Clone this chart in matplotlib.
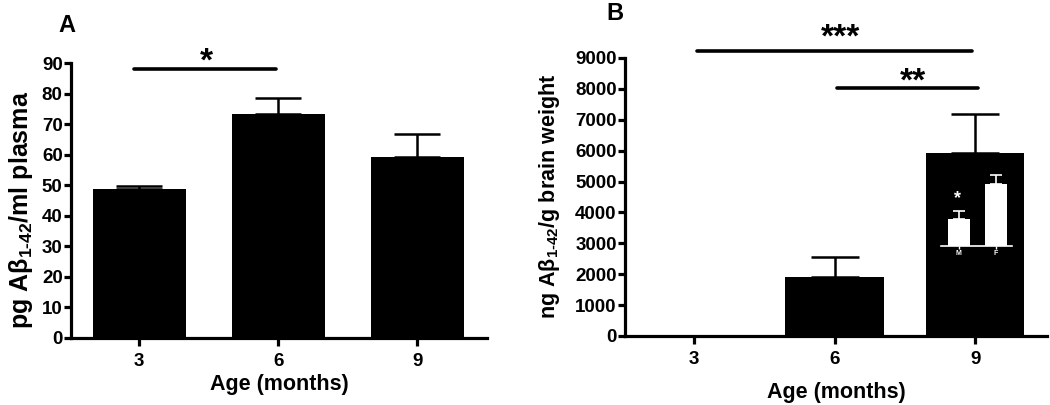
import matplotlib
matplotlib.use("Agg")
import matplotlib.pyplot as plt
import numpy as np

plt.rcParams['font.family'] = ['Liberation Sans', 'DejaVu Sans']
plt.rcParams['font.weight'] = 'bold'
plt.rcParams['mathtext.fontset'] = 'custom'
plt.rcParams['mathtext.rm'] = 'Liberation Sans:bold'
plt.rcParams['mathtext.bf'] = 'Liberation Sans:bold'
plt.rcParams['mathtext.default'] = 'bf'

# ---- data ----
ages = ['3', '6', '9']
plasma_mean = [48.8, 73.3, 59.2]
plasma_err = [0.9, 5.2, 7.5]
brain_mean = [0, 1910, 5920]
brain_err = [0, 650, 1260]
sex_labels = ['M', 'F']
sex_mean = [3600, 8300]
sex_err = [1070, 1200]

fig = plt.figure(figsize=(10.5, 4.05), dpi=100)
LW = 2.3
TFS = 13.5
LFS = 15.5
SFS = 24

def style(ax):
    for s in ['top', 'right']:
        ax.spines[s].set_visible(False)
    for s in ['left', 'bottom']:
        ax.spines[s].set_linewidth(LW)
    ax.tick_params(axis='y', length=5, width=LW, labelsize=TFS, pad=1)
    ax.tick_params(axis='x', length=6, width=LW, labelsize=TFS, pad=5)
    for lab in ax.get_xticklabels() + ax.get_yticklabels():
        lab.set_fontweight('bold')

def errbars(ax, x, m, e, cap, color='black', lw=1.8):
    for xi, mi, ei in zip(x, m, e):
        if ei > 0:
            ax.errorbar(xi, mi, yerr=[[0], [ei]], fmt='none', ecolor=color,
                        elinewidth=lw, capsize=cap, capthick=lw, zorder=1)

# ---- panel A ----
axA = fig.add_axes([71/1050, 1-338/405, 416/1050, 275/405])
x = np.arange(len(ages))
axA.bar(x, plasma_mean, width=0.67, color='black', zorder=2)
errbars(axA, x, plasma_mean, plasma_err, 16.5)
axA.set_xlim(-0.49, 2.5)
axA.set_ylim(0, 90)
axA.set_yticks(np.arange(0, 91, 10))
axA.set_xticks(x)
axA.set_xticklabels(ages)
style(axA)
fig.text(21/1050, 1-210/405, 'pg A\u03b2$_{1\u201042}$/ml plasma', rotation=90,
         fontsize=18, fontweight='bold', ha='center', va='center')
axA.set_xlabel('Age (months)', fontsize=LFS, fontweight='bold', labelpad=3)
axA.plot([-0.04, 0.98], [88, 88], color='black', lw=2.6, solid_capstyle='round', clip_on=False)
axA.text(0.48, 90.2, '*', ha='center', va='center', fontsize=SFS, fontweight='bold')
fig.text(58/1050, 1-26/405, 'A', fontsize=17, fontweight='bold', ha='left', va='center')

# ---- panel B ----
axB = fig.add_axes([625/1050, 1-336/405, 422/1050, 278/405])
axB.bar(x, brain_mean, width=0.7, color='black', zorder=2)
errbars(axB, x, brain_mean, brain_err, 17)
axB.set_xlim(-0.49, 2.51)
axB.set_ylim(0, 9000)
axB.set_yticks(np.arange(0, 9001, 1000))
axB.set_xticks(x)
axB.set_xticklabels(ages)
style(axB)
fig.text(550/1050, 1-196/405, 'ng A\u03b2$_{1\u201042}$/g brain weight', rotation=90,
         fontsize=LFS, fontweight='bold', ha='center', va='center')
axB.set_xlabel('Age (months)', fontsize=LFS, fontweight='bold', labelpad=10)
axB.plot([0.02, 1.98], [9220, 9220], color='black', lw=2.6, solid_capstyle='round', clip_on=False)
axB.text(1.04, 9630, '***', ha='center', va='center', fontsize=SFS, fontweight='bold')
axB.plot([1.02, 2.02], [8030, 8030], color='black', lw=2.6, solid_capstyle='round', clip_on=False)
axB.text(1.56, 8230, '**', ha='center', va='center', fontsize=SFS, fontweight='bold')
fig.text(606/1050, 1-14/405, 'B', fontsize=17, fontweight='bold', ha='left', va='center')

# ---- inset (sex split at 9 months) ----
axI = fig.add_axes([941/1050, 1-246/405, 71/1050, 75/405])
axI.patch.set_alpha(0)
xs = np.arange(len(sex_labels))
axI.bar(xs, sex_mean, width=0.6, color='white', zorder=2)
errbars(axI, xs, sex_mean, sex_err, 4, color='white', lw=1.2)
axI.set_xlim(-0.49, 1.45)
axI.set_ylim(0, 10000)
for s in ['top', 'right', 'left']:
    axI.spines[s].set_visible(False)
axI.spines['bottom'].set_color('white')
axI.spines['bottom'].set_linewidth(1.2)
axI.set_yticks([])
axI.set_xticks(xs)
axI.set_xticklabels(sex_labels, color='white', fontsize=5, fontweight='bold')
axI.tick_params(axis='x', colors='white', length=2, width=1, pad=1, labelsize=5)
axI.text(-0.05, 6300, '*', color='white', ha='center', va='center', fontsize=13, fontweight='bold')

fig.savefig('out.png', dpi=100)
